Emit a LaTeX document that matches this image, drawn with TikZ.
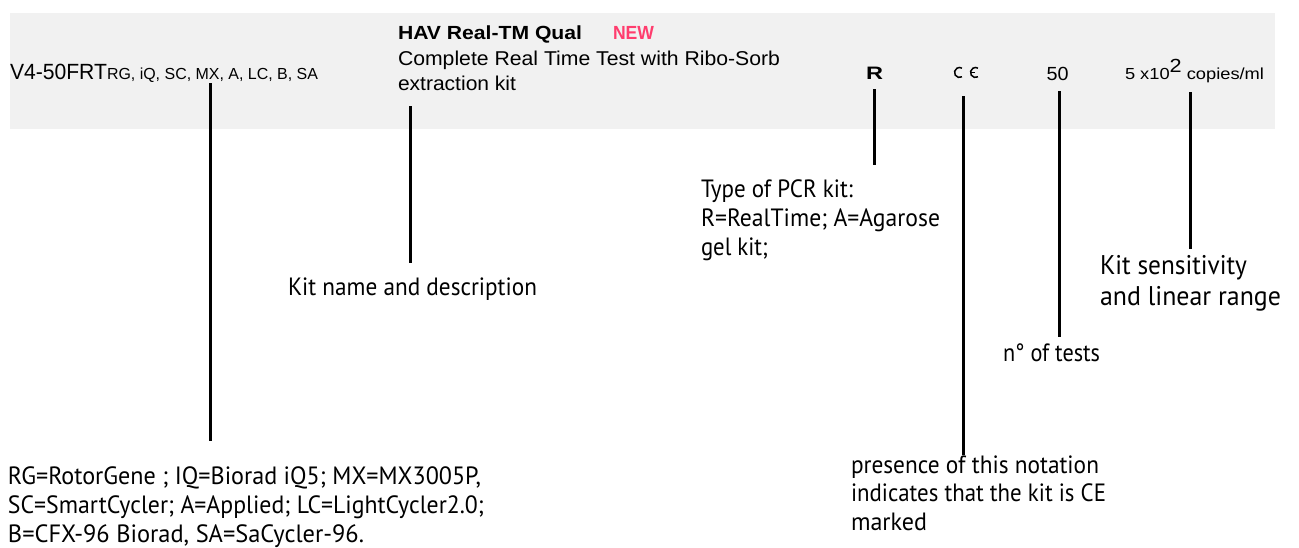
\documentclass[tikz,border=0pt]{standalone}
\usepackage{fontspec}
\setmainfont{Liberation Sans}
\newfontfamily\labfont{PT Sans}
\usepackage{graphicx}
\definecolor{band}{HTML}{F1F1F1}
\definecolor{newpink}{HTML}{FF3D6E}
\newcommand{\fitw}[2]{\resizebox{#1pt}{\height}{#2}}
\newcommand{\stack}[1]{\begin{tabular}[t]{@{}l@{}}#1\end{tabular}}
\begin{document}
\begin{tikzpicture}[x=1pt,y=-1pt,
  txt/.style={anchor=base west,inner sep=0pt,outer sep=0pt},
  lab/.style={txt,font=\labfont\fontsize{25}{29}\selectfont},
  lead/.style={line width=3pt,black},
  cemark/.style={line width=1.5pt,black}]
\useasboundingbox (0,0) rectangle (1299,547);
\fill[band] (10,13) rectangle (1275,129);

% texts in the band
\node[txt,font=\fontsize{22}{26}\selectfont] (code) at (10,79) {\fitw{97}{V4-50FRT}};
\node[txt,font=\fontsize{16}{19}\selectfont] (inst) at (107,79) {\fitw{211}{RG, iQ, SC, MX, A, LC, B, SA}};
\node[txt,font=\bfseries\fontsize{19}{22}\selectfont] (title) at (398,39.3) {\fitw{184}{HAV Real-TM Qual}};
\node[txt,font=\bfseries\fontsize{19}{22}\selectfont,text=newpink] (new) at (613,39.3) {\fitw{41}{NEW}};
\node[txt,font=\fontsize{20}{24.3}\selectfont] (desc) at (398,65.7) {\stack{\fitw{382}{Complete Real Time Test with Ribo-Sorb}\\ \fitw{118}{extraction kit}}};
\node[txt,font=\bfseries\fontsize{18}{20}\selectfont] (kind) at (866,79.5) {\fitw{17}{R}};
\node[txt,font=\fontsize{19}{22}\selectfont] (num) at (1046.5,80) {\fitw{22}{50}};
\node[txt,font=\fontsize{16}{19}\selectfont] (sens) at (1125,79) {\fitw{139}{5 x10\raisebox{7pt}{\fontsize{19}{19}\selectfont 2} copies/ml}};

% CE mark
\coordinate (cec) at (959.5,72.5);
\coordinate (cee) at (975.5,72.5);
\draw[cemark] (cec) ++(60:5) arc[start angle=60,end angle=300,radius=5];
\draw[cemark] (cee) ++(60:5) arc[start angle=60,end angle=300,radius=5];
\draw[cemark] (cee) ++(-5,0) -- ++(4,0);

% leader lines
\coordinate (l1a) at (210.5,83);   \coordinate (l1b) at (210.5,441);
\coordinate (l2a) at (410,106);    \coordinate (l2b) at (410,263);
\coordinate (l3a) at (874.5,89);   \coordinate (l3b) at (874.5,165);
\coordinate (l4a) at (963.5,96);   \coordinate (l4b) at (963.5,455);
\coordinate (l5a) at (1059.5,91);  \coordinate (l5b) at (1059.5,337);
\coordinate (l6a) at (1190,92);    \coordinate (l6b) at (1190,249);
\draw[lead] (l1a) -- (l1b);
\draw[lead] (l2a) -- (l2b);
\draw[lead] (l3a) -- (l3b);
\draw[lead] (l4a) -- (l4b);
\draw[lead] (l5a) -- (l5b);
\draw[lead] (l6a) -- (l6b);

% labels
\node[lab,font=\labfont\fontsize{25}{29}\selectfont] (instlab) at (8,484.5) {\stack{\fitw{473}{RG=RotorGene ; IQ=Biorad iQ5; MX=MX3005P,}\\ \fitw{476}{SC=SmartCycler; A=Applied; LC=LightCycler2.0;}\\ \fitw{356}{B=CFX-96 Biorad, SA=SaCycler-96.}}};
\node[lab] (namelab) at (288,295) {\fitw{249}{Kit name and description}};
\node[lab] (typelab) at (701,197) {\stack{\fitw{152}{Type of PCR kit:}\\ \fitw{239}{R=RealTime; A=Agarose}\\ \fitw{67}{gel kit;}}};
\node[lab,font=\labfont\fontsize{25}{28.7}\selectfont] (celab) at (851,473) {\stack{\fitw{248}{presence of this notation}\\ \fitw{255}{indicates that the kit is CE}\\ \fitw{76}{marked}}};
\node[lab] (testlab) at (1003,361) {\fitw{97}{n° of tests}};
\node[lab,font=\labfont\fontsize{27}{31.5}\selectfont] (senslab) at (1100,274) {\stack{\fitw{147}{Kit sensitivity}\\ \fitw{181}{and linear range}}};
\end{tikzpicture}
\end{document}
